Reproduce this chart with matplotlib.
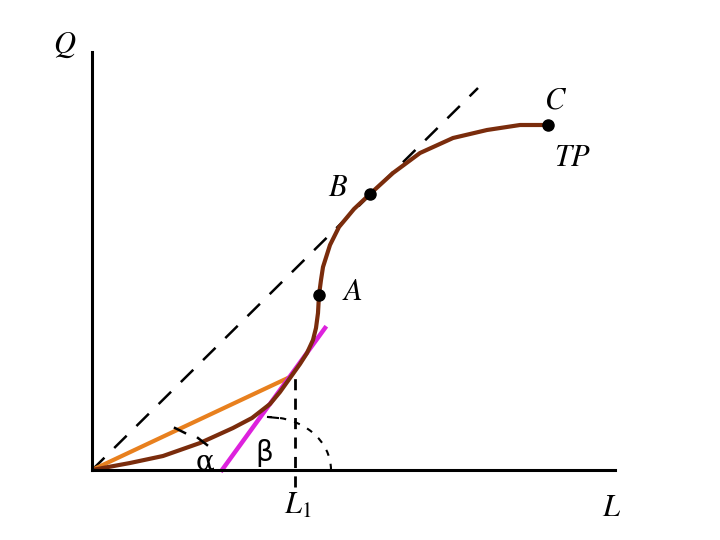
import matplotlib
matplotlib.use("Agg")
import matplotlib.pyplot as plt
from matplotlib.patches import Arc

plt.rcParams['mathtext.fontset'] = 'stix'

# total product curve TP (L, Q)
tp_L = [0, 38, 71, 108, 141, 160, 178, 188, 198, 208, 215, 221, 224, 226, 227, 229, 231, 238, 247, 262, 278, 301, 328, 361, 395, 428, 456]
tp_Q = [0, 7, 14, 27, 42, 52, 66, 78, 92, 106, 117, 130, 142, 157, 175, 190, 203, 225, 243, 261, 276, 297, 317, 332, 340, 345, 345]

# marked points A, B, C
pt_names = ["A", "B", "C"]
pt_L = [227, 278, 456]
pt_Q = [175, 276, 345]

# ray from origin tangent at B
ray_L = [0, 386]
ray_Q = [0, 382]

# ray from origin to the curve at L1 (average product)
avg_L = [0, 198]
avg_Q = [0, 93]

# tangent at L1 (marginal product)
tan_L = [130, 233]
tan_Q = [0, 142]

L1 = 203
L1_top = 94

fig = plt.figure(figsize=(7.2, 5.4), dpi=100)
ax = fig.add_axes([92 / 720, 70 / 540, 523 / 720, 418 / 540])
ax.set_xlim(0, 523)
ax.set_ylim(0, 418)
for s in ['top', 'right']:
    ax.spines[s].set_visible(False)
for s in ['left', 'bottom']:
    ax.spines[s].set_linewidth(2.2)
ax.set_xticks([])
ax.set_yticks([])

ax.plot(ray_L, ray_Q, color='black', lw=1.8, linestyle=(0, (7, 5.5)))
ax.plot(avg_L, avg_Q, color='#e8801e', lw=3, solid_capstyle='round')
ax.plot(tan_L, tan_Q, color='#dd22dd', lw=3.2, clip_on=False)
ax.plot(tp_L, tp_Q, color='#7a2c0c', lw=3, solid_joinstyle='round')
ax.plot([L1, L1], [-17, L1_top], color='black', lw=2, linestyle=(0, (4, 3)), clip_on=False)
ax.plot(pt_L, pt_Q, 'o', color='black', ms=8)

# angle marks
ax.add_patch(Arc((176, 0), 126, 106, theta1=0, theta2=90, color='black', lw=1.5,
                 linestyle=(0, (3, 4))))
ax.plot([176, 186], [53, 52], color='black', lw=1.5)
ax.plot([83, 93], [42, 37], color='black', lw=1.8)
ax.plot([106, 115], [32, 25], color='black', lw=1.8)

fs = 22
ax.text(-27, 425, "$Q$", fontsize=fs, ha='center', va='center', clip_on=False)
ax.text(520, -37, "$L$", fontsize=fs, ha='center', va='center', clip_on=False)
ax.text(206, -35, "$L_1$", fontsize=fs, ha='center', va='center', clip_on=False)
offs = [(33, 3), (-32, 6), (8, 25)]
for name, x, y, (dx, dy) in zip(pt_names, pt_L, pt_Q, offs):
    ax.text(x + dx, y + dy, f"${name}$", fontsize=fs, ha='center', va='center')
ax.text(481, 313, "$TP$", fontsize=fs, ha='center', va='center')
ax.text(113, 8, "α", fontsize=20, ha='center', va='center', family='DejaVu Serif')
ax.text(172, 17, "β", fontsize=20, ha='center', va='center', family='DejaVu Sans')

plt.savefig("out.png", dpi=100)
